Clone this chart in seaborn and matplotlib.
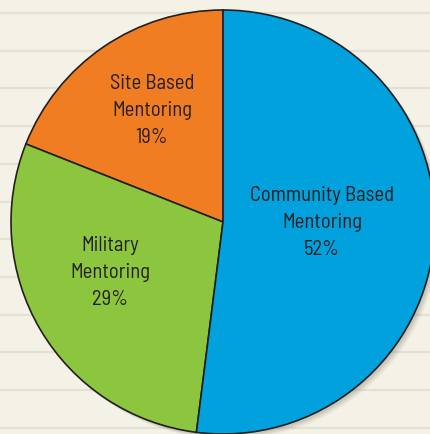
# -------------------------------------------------------------
# Mentoring programme share - pie chart on ruled paper
# -------------------------------------------------------------
import numpy as np
import matplotlib
matplotlib.use("Agg")
import matplotlib.pyplot as plt
from matplotlib import font_manager as fm
from matplotlib.textpath import TextPath
import seaborn as sns

# 1) Data ------------------------------------------------------
programs = ["Site Based\nMentoring", "Military\nMentoring", "Community Based\nMentoring"]
shares = [19, 29, 52]
colors = ["#F07D22", "#8CC63F", "#00A1DD"]

# 2) Style -----------------------------------------------------
sns.set_theme(style="white")
plt.rcParams["font.family"] = ["Roboto", "DejaVu Sans"]

# pick the installed narrow face closest to the font of the original
target_w, target_cap = 141.0, 14.3      # px: "Community Based" width, "M" height
cands = []
for f in fm.fontManager.ttflist:
    key = (f.name + " " + f.fname).lower()
    if not ("condensed" in key or "narrow" in key):
        continue
    if f.style != "normal" or "bold" in key or "black" in key or "italic" in key:
        continue
    cands.append(f.fname)
cands = sorted(set(cands))[:40]

best, best_err, best_w = None, 1e9, None
for path in cands:
    try:
        prop = fm.FontProperties(fname=path)
        wb = TextPath((0, 0), "Community Based", size=1, prop=prop).get_extents().width
        cb = TextPath((0, 0), "M", size=1, prop=prop).get_extents().height
    except Exception:
        continue
    err = abs(wb / cb - target_w / target_cap)
    if err < best_err:
        best, best_err, best_w = path, err, wb

if best:
    label_font = fm.FontProperties(fname=best, size=target_w / (best_w * 100 / 72))
else:
    label_font = fm.FontProperties(family=["Roboto", "DejaVu Sans"], size=12.5)

paper = "#F4F2E6"
fig = plt.figure(figsize=(4.31, 4.34), dpi=100, facecolor=paper)

# ruled-paper background
bg = fig.add_axes([0, 0, 1, 1])
bg.set_xlim(0, 431)
bg.set_ylim(434, 0)
bg.set_facecolor(paper)
for y in np.arange(13, 434, 37.7):
    bg.axhline(y, color="#E3E1D4", lw=1.6, zorder=0)
bg.axis("off")

# 3) Pie -------------------------------------------------------
ax = fig.add_axes([11 / 431, 0, 424 / 431, 424 / 434])

# soft drop shadow under the whole pie
for k, a in enumerate([0.06, 0.07, 0.08, 0.10]):
    off = 0.026 - 0.005 * k
    ax.add_patch(plt.Circle((off, -off), 1.0, color="#5E594E", alpha=a, lw=0, zorder=0))

wedges, texts = ax.pie(
    shares,
    colors=colors,
    startangle=90,
    counterclock=True,
    radius=1.0,
    labels=[f"{p}\n{s}%" for p, s in zip(programs, shares)],
    labeldistance=0.6,
    wedgeprops={"edgecolor": "#231F20", "linewidth": 1.2, "zorder": 2},
    textprops={"color": "#231F20", "ha": "center", "va": "center",
               "linespacing": 1.52},
)
for t in texts:
    t.set_fontproperties(label_font)
    t.set_zorder(3)
ax.set_xlim(-1, 1)
ax.set_ylim(-1, 1)
ax.set_aspect("auto")

# nudge labels to sit where the original has them
label_pos = [(-0.335, 0.525), (-0.533, -0.238), (0.467, -0.003)]
for t, (x, y) in zip(texts, label_pos):
    t.set_position((x, y))

plt.savefig("out.png", dpi=100, facecolor=paper)
